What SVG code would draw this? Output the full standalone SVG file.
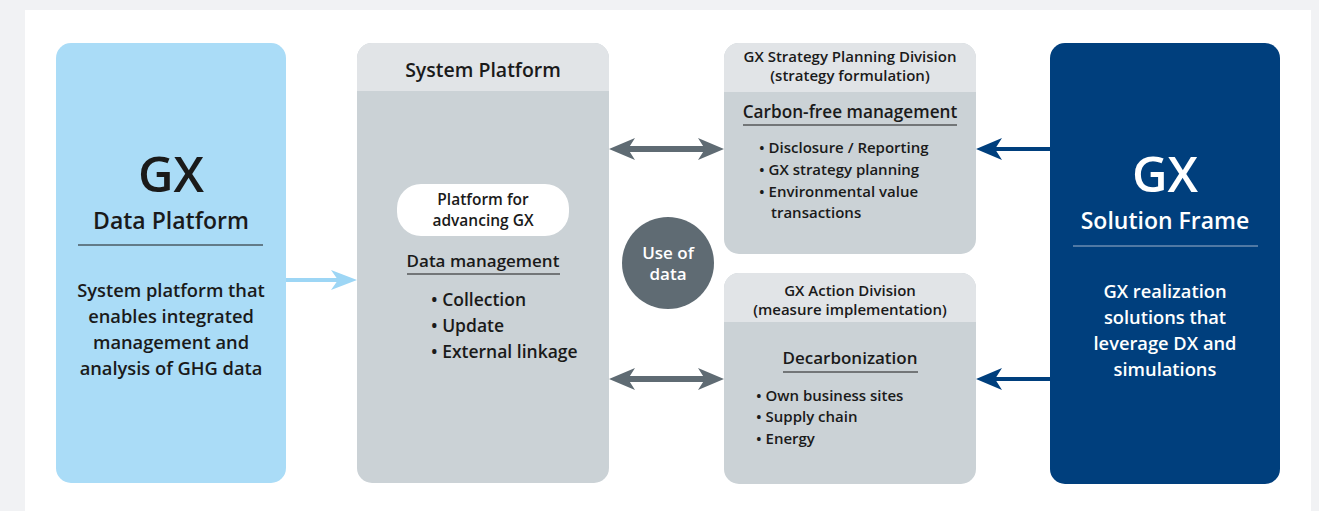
<svg xmlns="http://www.w3.org/2000/svg" width="1319" height="511" viewBox="0 0 1319 511">
<style>
text{font-family:"Open Sans","Noto Sans",sans-serif;font-weight:600;fill:#1a1a1a}
.c{text-anchor:middle}
.w{fill:#fff}
.hd{fill:#e1e4e7}
.bd{fill:#cbd2d6}
</style>
<rect x="0" y="0" width="1319" height="511" fill="#f1f2f4"/>
<rect x="25" y="10" width="1286" height="501" fill="#fff"/>

<g id="connectors">
  <line x1="286" y1="280" x2="340" y2="280" stroke="#9dd6f5" stroke-width="4"/>
  <path d="M357 280 L331 270 L338 280 L331 290 Z" fill="#9dd6f5"/>
  <g fill="#5f6b73">
    <line x1="625" y1="149" x2="708" y2="149" stroke="#5f6b73" stroke-width="6"/>
    <path d="M609 149 L635 138 L628 149 L635 160 Z"/>
    <path d="M724 149 L698 138 L705 149 L698 160 Z"/>
    <line x1="625" y1="379" x2="708" y2="379" stroke="#5f6b73" stroke-width="6"/>
    <path d="M609 379 L635 368 L628 379 L635 390 Z"/>
    <path d="M724 379 L698 368 L705 379 L698 390 Z"/>
  </g>
  <g fill="#003f7d">
    <line x1="1050" y1="149" x2="990" y2="149" stroke="#003f7d" stroke-width="4"/>
    <path d="M976 149 L1002 138 L995 149 L1002 160 Z"/>
    <line x1="1050" y1="379" x2="990" y2="379" stroke="#003f7d" stroke-width="4"/>
    <path d="M976 379 L1002 368 L995 379 L1002 390 Z"/>
  </g>
</g>

<g id="gx-data-platform">
  <rect x="56" y="43" width="230" height="440" rx="15" fill="#aadcf7"/>
  <text x="171" y="192" class="c" font-size="49">GX</text>
  <text x="171" y="229" class="c" font-size="23">Data Platform</text>
  <line x1="78" y1="245" x2="263" y2="245" stroke="#1a1a1a" stroke-width="1"/>
  <text class="c" font-size="18.3"><tspan x="171" y="297">System platform that</tspan><tspan x="171" y="323">enables integrated</tspan><tspan x="171" y="349">management and</tspan><tspan x="171" y="375">analysis of GHG data</tspan></text>
</g>

<g id="system-platform">
  <rect x="357" y="43" width="252" height="440" rx="15" class="bd"/>
  <path d="M357 91 V58 a15 15 0 0 1 15 -15 H594 a15 15 0 0 1 15 15 V91 Z" class="hd"/>
  <text x="483" y="77" class="c" font-size="19.5">System Platform</text>
  <rect x="397" y="184" width="172" height="52" rx="24" fill="#fff"/>
  <text class="c" font-size="15.5"><tspan x="483" y="205">Platform for</tspan><tspan x="483" y="226">advancing GX</tspan></text>
  <text x="483" y="267" class="c" font-size="17">Data management</text>
  <line x1="407" y1="274" x2="560" y2="274" stroke="#1a1a1a" stroke-width="1"/>
  <text font-size="17.5"><tspan x="431" y="306">• Collection</tspan><tspan x="431" y="332">• Update</tspan><tspan x="431" y="358">• External linkage</tspan></text>
</g>

<g id="use-of-data">
  <circle cx="668" cy="263" r="46" fill="#5f6b73"/>
  <text class="c w" font-size="17"><tspan x="668" y="259">Use of</tspan><tspan x="668" y="280">data</tspan></text>
</g>

<g id="strategy-division">
  <rect x="724" y="43" width="252" height="211" rx="15" class="bd"/>
  <path d="M724 92 V58 a15 15 0 0 1 15 -15 H961 a15 15 0 0 1 15 15 V92 Z" class="hd"/>
  <text class="c" font-size="15"><tspan x="850" y="62">GX Strategy Planning Division</tspan><tspan x="850" y="81">(strategy formulation)</tspan></text>
  <text x="850" y="118" class="c" font-size="17.2">Carbon-free management</text>
  <line x1="743" y1="125" x2="957" y2="125" stroke="#1a1a1a" stroke-width="1"/>
  <text font-size="15"><tspan x="759" y="153">• Disclosure / Reporting</tspan><tspan x="759" y="175">• GX strategy planning</tspan><tspan x="759" y="197">• Environmental value</tspan><tspan x="771" y="218">transactions</tspan></text>
</g>

<g id="action-division">
  <rect x="724" y="273" width="252" height="211" rx="15" class="bd"/>
  <path d="M724 322 V288 a15 15 0 0 1 15 -15 H961 a15 15 0 0 1 15 15 V322 Z" class="hd"/>
  <text class="c" font-size="15"><tspan x="850" y="296">GX Action Division</tspan><tspan x="850" y="315">(measure implementation)</tspan></text>
  <text x="850" y="364" class="c" font-size="17">Decarbonization</text>
  <line x1="783" y1="372" x2="918" y2="372" stroke="#1a1a1a" stroke-width="1"/>
  <text font-size="15"><tspan x="756" y="401">• Own business sites</tspan><tspan x="756" y="422">• Supply chain</tspan><tspan x="756" y="444">• Energy</tspan></text>
</g>

<g id="gx-solution-frame">
  <rect x="1050" y="43" width="230" height="441" rx="15" fill="#003f7d"/>
  <text x="1165" y="192" class="c w" font-size="49">GX</text>
  <text x="1165" y="229" class="c w" font-size="23">Solution Frame</text>
  <line x1="1073" y1="246" x2="1258" y2="246" stroke="#9fb3cc" stroke-width="1"/>
  <text class="c w" font-size="18.3"><tspan x="1165" y="298">GX realization</tspan><tspan x="1165" y="324">solutions that</tspan><tspan x="1165" y="350">leverage DX and</tspan><tspan x="1165" y="376">simulations</tspan></text>
</g>
</svg>
